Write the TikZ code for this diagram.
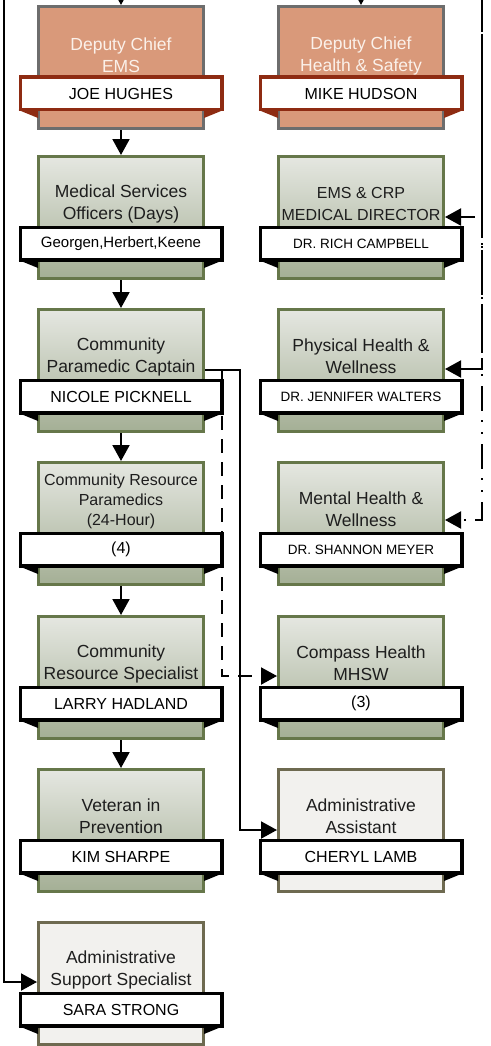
\documentclass[tikz,border=0pt]{standalone}
\usepackage{fontspec}
\setmainfont{Liberation Sans}
\usetikzlibrary{arrows.meta,backgrounds}

\definecolor{emsfill}{HTML}{D9997A}
\definecolor{emsedge}{HTML}{6D6D6D}
\definecolor{emstext}{HTML}{FBF1EA}
\definecolor{rust}{HTML}{8E2B12}
\definecolor{greentop}{HTML}{E5E7E1}
\definecolor{greenbot}{HTML}{A4AF95}
\definecolor{greenedge}{HTML}{66774A}
\definecolor{adminfill}{HTML}{F2F1EE}
\definecolor{adminedge}{HTML}{6E6A50}
\definecolor{ink}{HTML}{1E1E1E}

\tikzset{
  unit/.style={draw, line width=3pt, minimum width=165pt, minimum height=122pt,
    inner sep=0pt, anchor=north},
  emsbox/.style={unit, fill=emsfill, draw=emsedge},
  greenbox/.style={unit, draw=greenedge, top color=greentop, bottom color=greenbot},
  adminbox/.style={unit, fill=adminfill, draw=adminedge},
  holder/.style={draw, line width=3.5pt, fill=white, minimum width=201.5pt,
    minimum height=32.5pt, inner sep=0pt, text=black,
    font=\fontsize{16}{19}\selectfont},
  emsbanner/.style={holder, draw=rust},
  greenbanner/.style={holder, draw=black},
  adminbanner/.style={holder, draw=black},
  emstab/.style={fill=rust},
  greentab/.style={fill=black},
  admintab/.style={fill=black},
  heading/.style={align=center, inner sep=0pt, font=\fontsize{17.5}{22}\selectfont},
  emstitle/.style={heading, text=emstext},
  greentitle/.style={heading, text=ink},
  admintitle/.style={heading, text=ink},
  twoline/.style={yshift=-48.5pt},
  twolinelow/.style={yshift=-50.5pt},
  twolinesmall/.style={yshift=-48.5pt, font=\fontsize{16}{22}\selectfont},
  threeline/.style={yshift=-40pt, font=\fontsize{16}{20}\selectfont},
  conn/.style={line width=2pt, -{Triangle[length=16pt,width=17pt]}},
  dconn/.style={conn, dash pattern=on 14pt off 9pt},
  linkA/.style={conn, dash pattern=on 52pt off 9pt},
  linkB/.style={conn, dash pattern=on 42pt off 5pt on 2pt off 5pt},
  linkC/.style={conn, dash pattern=on 25pt off 9pt on 2pt off 10pt on 2pt off 10pt},
}

% #1 name, #2 centre x, #3 top y, #4 kind, #5 title style, #6 title, #7 holder
\newcommand\orgunit[7]{%
  \node[#4box] (#1) at (#2,#3) {};
  \fill[#4tab] (#2-102.5,#3+105) -- (#2-83,#3+105) -- (#2-83,#3+113) -- cycle;
  \fill[#4tab] (#2+102.5,#3+105) -- (#2+83,#3+105) -- (#2+83,#3+113) -- cycle;
  \node[#4title, #5] (#1-t) at (#2,#3) {#6};
  \node[#4banner] (#1-n) at (#2,#3+88.5) {#7};
}
\newcommand\drname{\fontsize{13.5}{16}\selectfont}

\begin{document}
\begin{tikzpicture}[x=1pt, y=-1pt]
\useasboundingbox (0,0) rectangle (490,1046);

% EMS column
\orgunit{dcems}{121}{5}{ems}{twolinelow}{Deputy Chief\\EMS}{JOE HUGHES}
\orgunit{mso}{121}{155}{green}{twoline}{Medical Services\\Officers (Days)}{\fontsize{15}{18}\selectfont Georgen,Herbert,Keene}
\orgunit{cpc}{121}{308}{green}{twoline}{Community\\Paramedic Captain}{NICOLE PICKNELL}
\orgunit{crp}{121}{461}{green}{threeline}{Community Resource\\Paramedics\\(24-Hour)}{(4)}
\orgunit{crs}{121}{615}{green}{twoline}{Community\\Resource Specialist}{LARRY HADLAND}
\orgunit{vip}{121}{768}{green}{twoline}{Veteran in\\Prevention}{KIM SHARPE}
\orgunit{ass}{121}{921}{admin}{twoline}{Administrative\\Support Specialist}{SARA STRONG}

% Health & Safety column
\orgunit{dchs}{361}{5}{ems}{twolinelow}{Deputy Chief\\Health \& Safety}{MIKE HUDSON}
\orgunit{emd}{361}{155}{green}{twolinesmall}{EMS \& CRP\\MEDICAL DIRECTOR}{\drname DR. RICH CAMPBELL}
\orgunit{phw}{361}{308}{green}{twoline}{Physical Health \&\\Wellness}{\drname DR. JENNIFER WALTERS}
\orgunit{mhw}{361}{461}{green}{twoline}{Mental Health \&\\Wellness}{\drname DR. SHANNON MEYER}
\orgunit{chm}{361}{615}{green}{twoline}{Compass Health\\MHSW}{(3)}
\orgunit{aa}{361}{768}{admin}{twoline}{Administrative\\Assistant}{CHERYL LAMB}

% feeds coming in from above
\coordinate (inL) at (121,-20);
\coordinate (inR) at (361,-20);
\coordinate (feedL) at (4,-20);
\coordinate (feedR) at (482,-20);

\begin{scope}[on background layer]
  \draw[conn] (inL) -- (dcems.north);
  \draw[conn] (inR) -- (dchs.north);
  \draw[conn] (dcems.south) -- (mso.north);
  \draw[conn] (mso.south) -- (cpc.north);
  \draw[conn] (cpc.south) -- (crp.north);
  \draw[conn] (crp.south) -- (crs.north);
  \draw[conn] (crs.south) -- (vip.north);
  \draw[conn] (feedL) |- ([yshift=-61pt]ass.north west);
  \draw[conn] ([yshift=-62pt]cpc.north east) -- ++(35,0) |- ([yshift=-62pt]aa.north west);
  \draw[dconn] ([xshift=17pt,yshift=-62pt]cpc.north east) |- ([yshift=-61pt]chm.north west);
  \draw[linkA] (feedR) |- ([yshift=-62pt]emd.north east);
  \draw[linkB] (feedR) |- ([yshift=-61pt]phw.north east);
  \draw[linkC] (feedR) |- ([yshift=-59pt]mhw.north east);
\end{scope}
\end{tikzpicture}
\end{document}
